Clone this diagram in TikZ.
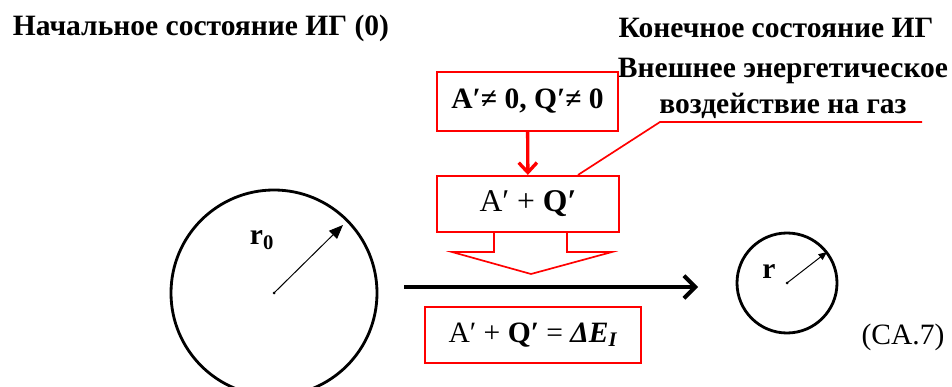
\documentclass[tikz,border=0pt]{standalone}
\usepackage{fontspec}
\setmainfont{Liberation Serif}
\usepackage{tikz}
\usetikzlibrary{arrows.meta, calc}
\usepackage{tkz-euclide}

\begin{document}
\begin{tikzpicture}[x=0.025cm, y=0.025cm,
    txt/.style={font=\fontsize{21}{25.6}\selectfont},
    head/.style={font=\fontsize{21}{25.6}\selectfont\bfseries},
    redbox/.style={draw=red, line width=1.5pt, inner sep=0pt, font=\fontsize{21}{25}\selectfont},
    redarr/.style={draw=red, line width=2.4pt, -{Straight Barb[length=7pt, width=13pt, line width=2.4pt]}}]
            \useasboundingbox (0,0) rectangle (952,387);
            \tkzDefPoints{274/94/O_1, 377/94/A_1, 343/162/T_1, 787/104/O_2, 837/104/A_2, 827/135/T_2}
            \tkzDrawCircle[black, line width=2pt](O_1,A_1)
            \tkzDrawCircle[black, line width=2pt](O_2,A_2)
            \tkzDrawSegments[black, line width=0.7pt, -{Triangle[length=10pt, width=8pt]}](O_1,T_1)
            \tkzDrawSegments[black, line width=0.7pt, -{Triangle[length=6pt, width=5pt]}](O_2,T_2)
            \fill (O_1) circle (1.5);
            \fill (O_2) circle (1.5);
            %\tkzLabelPoints[above](O_1,O_2)
            \node[head] (lr0) at (262,147) {r\textsubscript{0}};
            \node[head] (lr) at (769,115) {r};
            % headings
            \node[head] (hd0) at (201,359) {Начальное состояние ИГ (0)};
            \node[head] (hd1) at (776,359) {Конечное состояние ИГ};
            \node[head, align=center] (ext) at (783,299) {Внешнее энергетическое\\воздействие на газ};
            % boxes
            \node[redbox, minimum width=4.525cm, minimum height=1.475cm, font=\fontsize{21}{25}\selectfont\bfseries] (qa) at (527.5,285.5) {A′≠ 0, Q′≠ 0};
            \node[redbox, minimum width=4.55cm, minimum height=1.4cm, font=\fontsize{22.5}{26}\selectfont] (qb) at (528,183) {A′ + \textbf{Q′}};
            \node[redbox, minimum width=5.4cm, minimum height=1.4cm] (qc) at (533,52) {A′ +\ \textbf{Q′} = \textbf{\textit{ΔE\textsubscript{I}}}};
            \draw[redarr] (qa) -- (qb);
            \coordinate (c1) at (922,265);
            \coordinate (c2) at (660,265);
            \draw[red, line width=1.2pt] (c1) -- (c2) -- ($(qb.north)+(50,0)$);
            \draw[red, line width=1.2pt] (494,155) -- (494,135) -- (452,135) -- (531,113) -- (612,135) -- (567,135) -- (567,155);
            % process arrow
            \coordinate (p0) at (404,100);
            \coordinate (p1) at (698,100);
            \draw[line width=2.8pt, -{Straight Barb[length=8pt, width=16pt, line width=2.8pt]}] (p0) -- (p1);
            \node[txt] (eq) at (903,50) {(CA.7)};
        \end{tikzpicture}
\end{document}
